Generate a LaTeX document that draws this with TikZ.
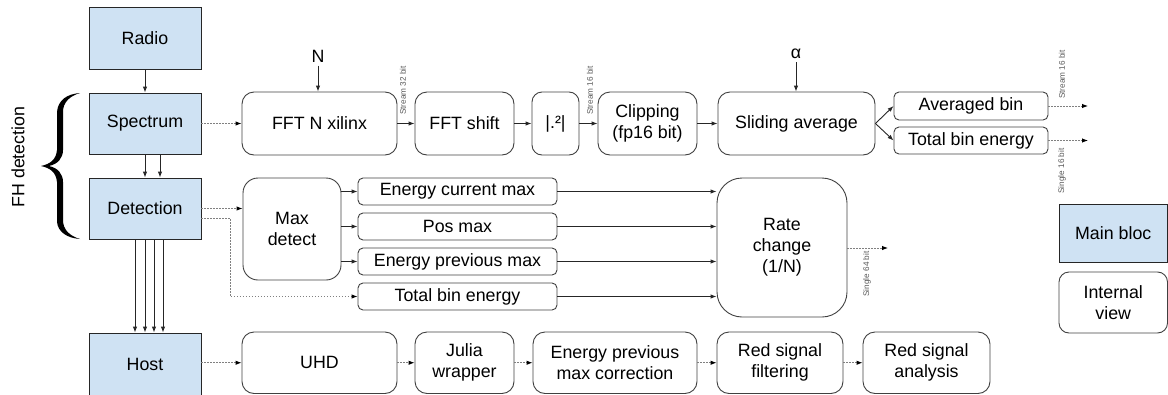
\documentclass[tikz,border=0pt]{standalone}
\usepackage{fontspec}
\setmainfont{Liberation Sans}
\usetikzlibrary{arrows.meta,calc}
\definecolor{bluefill}{HTML}{CFE2F3}
\definecolor{edge}{HTML}{404040}
\definecolor{dots}{HTML}{808080}
\begin{document}
\begin{tikzpicture}[x=1pt,y=-1pt,
  font=\fontsize{17.8}{21}\selectfont,
  mainbox/.style={draw=black!85, fill=bluefill, line width=0.9pt, inner sep=0pt, minimum width=112pt},
  ibox/.style={draw=edge, line width=0.9pt, rounded corners=#1, align=center, inner sep=0pt},
  ibox/.default=10pt,
  link/.style={line width=0.9pt, draw=black!85, -{Latex[length=6pt,width=4.5pt]}},
  flow/.style={line width=0.9pt, draw=dots, dash pattern=on 1.2pt off 1.8pt, -{Latex[length=6pt,width=4.5pt,color=black]}},
  tag/.style={font=\fontsize{8.2}{9}\selectfont, text=black!65, rotate=90, inner sep=0pt}]

\useasboundingbox (0,0) rectangle (1168,394);

% main blocks on the left
\node[mainbox, minimum height=62pt] (radio) at (145,38) {Radio};
\node[mainbox, minimum height=61pt] (spec) at (145,123.5) {Spectrum};
\node[mainbox, minimum height=61pt] (det) at (145,208.5) {Detection};
\node[mainbox, minimum height=62pt] (host) at (145,364) {Host};

% FH detection brace
\fill (80,93) .. controls (67,94) and (58,100) .. (57,112) -- (57,150)
  .. controls (56,160) and (50,164) .. (41,166)
  .. controls (50,168) and (56,172) .. (57,182) -- (57,222)
  .. controls (58,232) and (67,238) .. (80,239)
  .. controls (70,236) and (63,230) .. (63,220) -- (63,182)
  .. controls (63,174) and (58,168) .. (49,166)
  .. controls (58,164) and (63,158) .. (63,150) -- (63,112)
  .. controls (63,102) and (70,96) .. (80,93) -- cycle;
\node[rotate=90] (fh) at (18,157) {FH detection};

\draw[link] (radio) -- (spec);
\draw[link] (spec) -- (det);
\draw[link] ([xshift=15pt]spec.south) -- ([xshift=15pt]det.north);
\foreach \dx in {-10,0,9,18}
  \draw[link] ([xshift=\dx pt]det.south) -- ([xshift=\dx pt]host.north);

% spectrum chain
\node[ibox=12pt, minimum width=155pt, minimum height=63pt] (fft) at (319.5,123.5) {FFT N xilinx};
\node[ibox=12pt, minimum width=99pt, minimum height=63pt] (shift) at (464.5,123.5) {FFT shift};
\node[ibox=10pt, minimum width=47pt, minimum height=63pt] (abs) at (555.5,123.5) {|.²|};
\node[ibox=12pt, minimum width=99pt, minimum height=63pt] (clip) at (647.5,123.5) {Clipping\\(fp16 bit)};
\node[ibox=12pt, minimum width=157pt, minimum height=63pt] (slide) at (796.5,123.5) {Sliding average};
\node[ibox=5pt, minimum width=154pt, minimum height=28pt] (avg) at (971,106) {Averaged bin};
\node[ibox=5pt, minimum width=154pt, minimum height=27pt] (tbe1) at (971,140.5) {Total bin energy};

\node (nlab) at (318,56) {N};
\node (alab) at (796,54) {α};
\draw[link] (nlab.south) -- (nlab.south |- fft.north);
\draw[link] (alab.south) -- (alab.south |- slide.north);

\draw[flow] (spec) -- (fft);
\draw[link] (fft) -- (shift);
\draw[link] (shift) -- (abs);
\draw[link] (abs) -- (clip);
\draw[link] (clip) -- (slide);
\draw[link] (slide.east) -- (avg.west);
\draw[link] (slide.east) -- (tbe1.west);

\coordinate (avgout) at (1088,106);
\coordinate (tbeout) at (1088,140.5);
\draw[flow] (avg) -- (avgout);
\draw[flow] (tbe1) -- (tbeout);

\node[tag] (t1) at (403,90.5) {Stream 32 bit};
\node[tag] (t2) at (590,90.5) {Stream 16 bit};
\node[tag] (t3) at (1062,74.5) {Stream 16 bit};
\node[tag] (t4) at (1062,171) {Single 16 bit};

% detection chain
\node[ibox=15pt, minimum width=98pt, minimum height=102pt] (maxd) at (292,229) {Max\\detect};
\node[ibox=5pt, minimum width=199pt, minimum height=27pt] (ecm) at (457.5,191.5) {Energy current max};
\node[ibox=5pt, minimum width=199pt, minimum height=27pt] (pos) at (457.5,226.5) {Pos max};
\node[ibox=5pt, minimum width=199pt, minimum height=27pt] (epm) at (457.5,261.5) {Energy previous max};
\node[ibox=5pt, minimum width=199pt, minimum height=27pt] (tbe2) at (457.5,296.5) {Total bin energy};
\node[ibox=25pt, minimum width=130pt, minimum height=139pt] (rate) at (782,247.5) {Rate\\change\\(1/N)};

\draw[flow] (det.east) -- (det.east -| maxd.west);
\coordinate (bend) at (230,218);
\draw[flow] (det.east |- bend) -- (bend) |- (tbe2.west);
\foreach \b in {ecm,pos,epm}
  \draw[link] (maxd.east |- \b.west) -- (\b.west);
\foreach \b in {ecm,pos,epm,tbe2}
  \draw[link] (\b.east) -- (\b.east -| rate.west);

\coordinate (rateout) at (888,248);
\draw[flow] (rate.east |- rateout) -- (rateout);
\node[tag] (t5) at (867,274) {Single 64 bit};

% host chain
\node[ibox=12pt, minimum width=155pt, minimum height=61.5pt] (uhd) at (319.5,362.75) {UHD};
\node[ibox=12pt, minimum width=99pt, minimum height=61.5pt] (julia) at (464.5,362.75) {Julia\\wrapper};
\node[ibox=12pt, minimum width=164pt, minimum height=61.5pt] (corr) at (615,362.75) {Energy previous\\max correction};
\node[ibox=12pt, minimum width=126pt, minimum height=61.5pt] (filt) at (780,362.75) {Red signal\\filtering};
\node[ibox=12pt, minimum width=127pt, minimum height=61.5pt] (anal) at (926.5,362.75) {Red signal\\analysis};

\draw[flow] (host.east |- uhd.west) -- (uhd.west);
\draw[flow] (uhd) -- (julia);
\draw[flow] (julia) -- (corr);
\draw[flow] (corr) -- (filt);
\draw[flow] (filt) -- (anal);

% legend
\node[mainbox, minimum width=108.5pt, minimum height=58pt] (leg1) at (1113.25,233) {Main bloc};
\node[ibox=10pt, minimum width=108.5pt, minimum height=61pt] (leg2) at (1113.25,302.5) {Internal\\view};

\end{tikzpicture}
\end{document}
